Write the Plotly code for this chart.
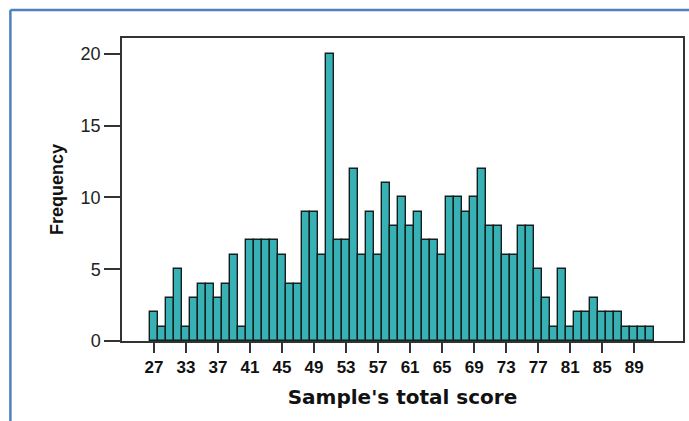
import plotly.graph_objects as go

scores = ["27", "29", "31", "32"] + [str(v) for v in range(33, 92)]
frequency = [2, 1, 3, 5,
             1, 3, 4, 4, 3, 4, 6, 1, 7, 7, 7, 7, 6, 4, 4, 9, 9, 6, 20, 7, 7,
             12, 6, 9, 6, 11, 8, 10, 8, 9, 7, 7, 6, 10, 10, 9, 10, 12, 8, 8,
             6, 6, 8, 8, 5, 3, 1, 5, 1, 2, 2, 3, 2, 2, 2, 1, 1, 1, 1]
tick_labels = ["27", "33", "37", "41", "45", "49", "53", "57", "61", "65",
               "69", "73", "77", "81", "85", "89"]
y_ticks = [0, 5, 10, 15, 20]

fig = go.Figure(go.Bar(
    x=scores, y=frequency,
    marker=dict(color="#38b1b5", line=dict(color="#142020", width=1.4)),
    width=1,
))

arial = "Liberation Sans, Arial, sans-serif"
L, R, T, B = 122, 4, 38, 80
PW, PH = 689 - L - R, 421 - T - B

def px(x):
    return (x - L) / PW

def py(y):
    return (421 - B - y) / PH

fig.update_layout(
    width=689, height=421,
    margin=dict(l=L, r=R, t=T, b=B),
    paper_bgcolor="white", plot_bgcolor="white",
    showlegend=False, bargap=0,
    font=dict(family=arial, color="#222"),
    xaxis=dict(
        type="category", range=[-4, 66.1],
        tickmode="array", tickvals=tick_labels,
        ticktext=["<b>%s</b>" % t for t in tick_labels],
        ticks="outside", ticklen=10, tickwidth=2, tickcolor="#333",
        tickfont=dict(size=17, color="#111", family=arial),
        showline=True, linecolor="#333", linewidth=1.5, mirror=True,
        showgrid=False, zeroline=False,
        title=dict(text="<b>Sample's total score</b>",
                   font=dict(size=20, color="#111", family="DejaVu Sans, sans-serif"),
                   standoff=14),
    ),
    yaxis=dict(
        range=[0, 21.1], tickmode="array", tickvals=y_ticks,
        ticks="outside", ticklen=16, tickwidth=1.5, tickcolor="#333",
        tickfont=dict(size=18, color="#222", family=arial),
        showline=True, linecolor="#333", linewidth=1.5, mirror=True,
        showgrid=False, zeroline=False,
        title=dict(text="<b>Frequency</b>",
                   font=dict(size=18, color="#111", family=arial),
                   standoff=12),
    ),
    shapes=[
        dict(type="line", xref="paper", yref="paper",
             x0=px(10), x1=px(10), y0=py(10), y1=py(430),
             line=dict(color="#4f81bd", width=2.5)),
        dict(type="line", xref="paper", yref="paper",
             x0=px(10), x1=px(700), y0=py(10), y1=py(10),
             line=dict(color="#4f81bd", width=2.5)),
    ],
)

fig.write_html("out.html", config={"displayModeBar": False},
               post_script="document.body.style.margin='0';document.body.style.overflow='hidden';")
